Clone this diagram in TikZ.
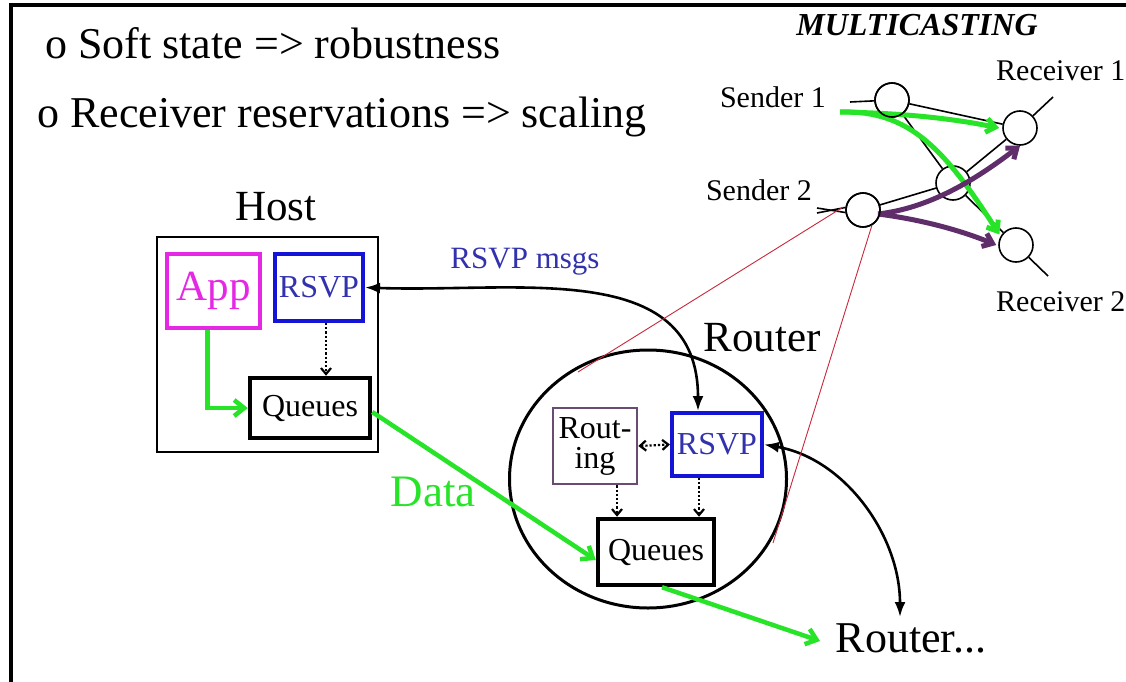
\documentclass[tikz,border=0pt]{standalone}
\usepackage{fontspec}
\setmainfont{Liberation Serif}
\usetikzlibrary{arrows.meta,shapes.geometric}
\definecolor{datagreen}{RGB}{40,228,40}
\definecolor{appmag}{RGB}{228,40,228}
\definecolor{rsvpblue}{RGB}{20,20,215}
\definecolor{rsvptext}{RGB}{50,50,175}
\definecolor{routpurple}{RGB}{105,75,115}
\definecolor{mcpurple}{RGB}{95,45,105}
\definecolor{linkred}{RGB}{200,40,60}
\tikzset{
  bullet/.style={font=\fontsize{44}{48}\selectfont, inner sep=0},
  big/.style={font=\fontsize{43}{46}\selectfont, inner sep=0},
  small/.style={font=\fontsize{30}{32}\selectfont, inner sep=0},
  box/.style={draw, inner sep=0, font=\fontsize{32}{34}\selectfont, align=center},
  mcnode/.style={circle, draw, line width=1.6pt, minimum size=34pt, inner sep=0, fill=white},
  mcedge/.style={line width=1.6pt},
  dataflow/.style={datagreen, line width=4.5pt, -{Straight Barb[length=10pt,width=16pt]}},
  mcgreen/.style={datagreen, line width=5pt, -{Straight Barb[length=9pt,width=14pt]}},
  mcviolet/.style={mcpurple, line width=5pt, -{Straight Barb[length=9pt,width=14pt]}},
  control/.style={dotted, line width=2.2pt, -{Straight Barb[length=6pt,width=10pt]}},
  signal/.style={line width=2.6pt, {Latex[length=15pt,width=11pt]}-{Latex[length=15pt,width=11pt]}},
  redline/.style={linkred, line width=0.9pt}
}
\begin{document}
\begin{tikzpicture}[x=1pt,y=-1pt]
\useasboundingbox (0,0) rectangle (1126,682);
\fill[white] (0,0) rectangle (1126,682);
% outer frame
\draw[line width=3.5pt] (11,684) -- (11,5) -- (1128,5);

% headline bullets
\node[bullet, anchor=west] (b1) at (45,43) {o Soft state => robustness};
\node[bullet, anchor=west] (b2) at (37,117) {o Receiver reservations => scaling};

% host
\node[big] (hostlbl) at (276,207) {Host};
\node[draw, line width=2.6pt, minimum width=221pt, minimum height=215pt, inner sep=0] (host) at (267.5,344.5) {};
\node[box, appmag, line width=4pt, minimum width=93pt, minimum height=74pt, font=\fontsize{43}{44}\selectfont] (app) at (213.5,291) {App};
\node[box, rsvpblue, line width=4pt, minimum width=88pt, minimum height=67pt, text=rsvptext] (hrsvp) at (319,287.5) {RSVP};
\node[box, line width=4.5pt, minimum width=120pt, minimum height=60pt] (hq) at (310,408) {Queues};

% router
\node[big] (routerlbl) at (762,338) {Router};
\node[ellipse, draw, line width=3pt, minimum width=277pt, minimum height=258pt, inner sep=0] (router) at (648,479) {};
\node[box, routpurple, line width=2.6pt, minimum width=84pt, minimum height=76pt, text=black, font=\fontsize{32}{30}\selectfont] (routing) at (595,446) {Rout-\\ing};
\node[box, rsvpblue, line width=4pt, minimum width=90pt, minimum height=63pt, text=rsvptext] (rrsvp) at (717,444.5) {RSVP};
\node[box, line width=4.5pt, minimum width=116pt, minimum height=66pt] (rq) at (656,552) {Queues};
\node[big, font=\fontsize{44}{46}\selectfont] (next) at (911,638) {Router...};

% labels
\node[big, text=datagreen, font=\fontsize{45}{46}\selectfont] (datalbl) at (433,492) {Data};
\node[small, text=rsvptext, font=\fontsize{31}{32}\selectfont] (msglbl) at (525,262) {RSVP msgs};

% data path
\draw[dataflow] ([xshift=-6pt]app.south) |- (hq.west);
\draw[dataflow] ([yshift=-4pt]hq.east) -- ([yshift=-8pt]rq.west);
\draw[dataflow] ([xshift=6pt]rq.south) -- (820,641) coordinate (nextin);

% control
\draw[control] ([xshift=7pt]hrsvp.south) -- ([xshift=7pt]hrsvp.south |- hq.north);
\draw[control, {Straight Barb[length=6pt,width=10pt]}-{Straight Barb[length=6pt,width=10pt]}] (routing.east) -- (rrsvp.west);
\draw[control] ([xshift=22pt]routing.south) -- ([xshift=22pt]routing.south |- rq.north);
\draw[control] ([xshift=-18pt]rrsvp.south) -- ([xshift=-18pt]rrsvp.south |- rq.north);

% RSVP messages
\draw[signal] (hrsvp.east) to[out=-2, in=90, looseness=1.1] ([xshift=-19pt]rrsvp.north);
\draw[signal] (rrsvp.east) to[out=-10, in=90, looseness=0.95] (900,617) coordinate (nextsig);

% multicast example
\node[font=\fontsize{32}{34}\selectfont\bfseries\itshape, inner sep=0] (mctitle) at (917,25) {MULTICASTING};
\node[mcnode] (s1n) at (892,100) {};
\node[mcnode] (r1n) at (1020,128) {};
\node[mcnode] (mn) at (953,183) {};
\node[mcnode] (s2n) at (863,210) {};
\node[mcnode] (r2n) at (1016,245) {};
\node[small, anchor=east] (s1lbl) at (826,97) {Sender 1};
\node[small, anchor=east] (s2lbl) at (812,190) {Sender 2};
\node[small, anchor=west] (r1lbl) at (996,71) {Receiver 1};
\node[small, anchor=west] (r2lbl) at (996,302) {Receiver 2};
\coordinate (s1stub) at (850,102);
\coordinate (s2stubA) at (817,208);
\coordinate (s2stubB) at (817,213);
\coordinate (r1stub) at (1053,97);
\coordinate (r2stub) at (1048,276);
\draw[mcedge] (s1stub) -- (s1n);
\draw[mcedge] (s2stubA) -- ([yshift=-2.5pt]s2n.west);
\draw[mcedge] (s2stubB) -- ([yshift=2.5pt]s2n.west);
\draw[mcedge] (r1n) -- (r1stub);
\draw[mcedge] (r2n) -- (r2stub);
\draw[mcedge] (s1n) -- (r1n);
\draw[mcedge] (s1n) -- (mn);
\draw[mcedge] (mn) -- (r1n);
\draw[mcedge] (mn) -- (r2n);
\draw[mcedge] (s2n) -- (mn);
% flows
\coordinate (g0) at (840,112);
\draw[mcgreen] (g0) .. controls (900,113) and (950,118) .. ([xshift=-3pt]r1n.west);
\draw[mcgreen] (g0) .. controls (910,110) and (945,150) .. ([xshift=-4pt,yshift=-2pt]r2n.north west);
\coordinate (p0) at (878,214);
\draw[mcviolet] (p0) .. controls (930,208) and (975,180) .. (r1n.south);
\draw[mcviolet] (p0) .. controls (925,220) and (965,232) .. ([xshift=-2pt]r2n.west);
\node[mcnode, fill=none] at (s1n) {};
\node[mcnode, fill=none] at (s2n) {};

% links from the router into the topology
\coordinate (rtl) at (578,372);
\coordinate (rtr) at (773,543);
\draw[redline] ([xshift=-2pt,yshift=3pt]s2n.west) -- (rtl);
\draw[redline] (s2n.-60) -- (rtr);
\end{tikzpicture}
\end{document}
